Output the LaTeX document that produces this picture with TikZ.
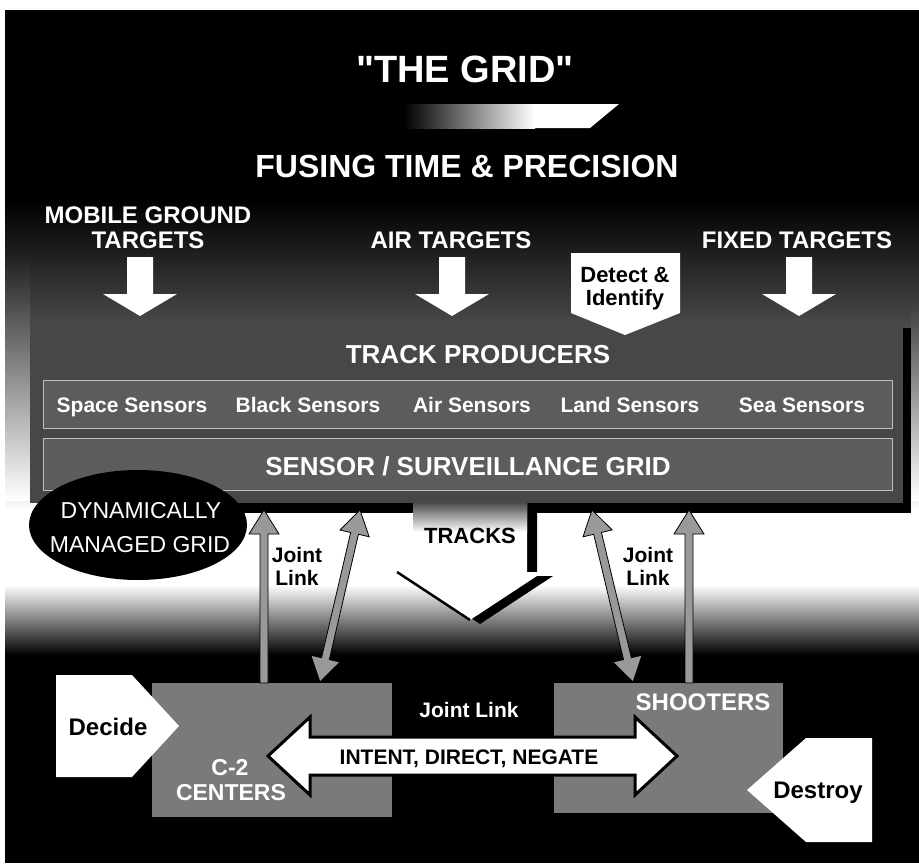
\documentclass[tikz,border=0pt]{standalone}
\usepackage{fontspec}
\setmainfont{Liberation Sans}[Ligatures=TeXOff]
\usetikzlibrary{calc,shapes.geometric}

\newcommand{\fsz}[1]{\fontsize{#1}{#1}\selectfont}

% fat arrow: [style]{tail}{tip}{shaft half}{head half}{head length}
\newcommand{\fatarrow}[6][]{%
  \coordinate (fa-b) at ($(#3)!#6pt!(#2)$);
  \filldraw[#1] ($(#2)!#4pt!90:(#3)$) -- ($(fa-b)!#4pt!90:(#3)$)
    -- ($(fa-b)!#5pt!90:(#3)$) -- (#3) -- ($(fa-b)!#5pt!-90:(#3)$)
    -- ($(fa-b)!#4pt!-90:(#3)$) -- ($(#2)!#4pt!-90:(#3)$) -- cycle;}

% same, with a head on both ends
\newcommand{\fatdarrow}[6][]{%
  \coordinate (fa-a) at ($(#2)!#6pt!(#3)$);
  \coordinate (fa-b) at ($(#3)!#6pt!(#2)$);
  \filldraw[#1] (#2) -- ($(fa-a)!#5pt!90:(#3)$) -- ($(fa-a)!#4pt!90:(#3)$)
    -- ($(fa-b)!#4pt!90:(#3)$) -- ($(fa-b)!#5pt!90:(#3)$) -- (#3)
    -- ($(fa-b)!#5pt!-90:(#3)$) -- ($(fa-b)!#4pt!-90:(#3)$)
    -- ($(fa-a)!#4pt!-90:(#3)$) -- ($(fa-a)!#5pt!-90:(#3)$) -- cycle;}

\begin{document}
\begin{tikzpicture}[x=1pt, y=-1pt,
		lbl/.style={font={\bfseries\fsz{#1}}, inner sep=0pt, anchor=base, text=white},
		lbl/.default=24,
		dark/.style={lbl=#1, text=black},
		panel/.style={fill=black!72, inner sep=0pt},
		row/.style={fill=black!64, draw=black!25, line width=0.8pt, inner sep=0pt},
		unit/.style={fill=black!52, inner sep=0pt},
		linkarrow/.style={fill=black!40, draw=black, line width=0.8pt},
		whitearrow/.style={fill=white, draw=none}]

\useasboundingbox (0,0) rectangle (919,863);
\fill[white] (0,0) rectangle (919,863);

% Background
\fill[black] (5,10) rectangle (919,863);
\shade[top color=black, bottom color=black!70] (5,200) rectangle (919,331);
\shade[top color=black!70, bottom color=white] (5,330) rectangle (919,512);
\fill[white] (5,511) rectangle (919,586);
\shade[top color=white, bottom color=black] (5,585) rectangle (919,655);
\shade[top color=black!86, bottom color=white] (5,260) rectangle (30,500);
\shade[top color=black!77, bottom color=white] (911,300) rectangle (919,500);

% Title
\node[lbl=38] (title) at (465,82) {"THE GRID"};
\shade[left color=black, right color=white] (404,104) rectangle (535,128);
\fill[white] (534,104) -- (619,104) -- (590,128) -- (534,128) -- cycle;
\node[lbl=32] (fusing) at (467,177) {FUSING TIME \& PRECISION};

% Targets
\node[lbl=24] (mobA) at (148,223) {MOBILE GROUND};
\node[lbl=24] (mobB) at (148,248) {TARGETS};
\node[lbl=24] (air) at (451,248) {AIR TARGETS};
\node[lbl=24] (fixed) at (797,248) {FIXED TARGETS};

\coordinate (mobtop) at (140,257);
\coordinate (mobtip) at (140,316);
\coordinate (airtop) at (452,257);
\coordinate (airtip) at (452,316);
\coordinate (fixtop) at (799,257);
\coordinate (fixtip) at (799,316);
\fatarrow[whitearrow]{mobtop}{mobtip}{13}{37}{22}
\fatarrow[whitearrow]{airtop}{airtip}{13}{37}{22}
\fatarrow[whitearrow]{fixtop}{fixtip}{13}{37}{22}

% Track producers
\fill[black] (38,328) rectangle (911,513);
\fill[black, shift={(10,4)}] (413,503) -- (413,572) -- (397,572) -- (470,620)
	-- (543,572) -- (527,572) -- (527,503) -- cycle;
\node[panel, minimum width=873pt, minimum height=185pt] (grid) at (466.5,410.5) {};
\fill[white] (413,503) -- (413,572) -- (397,572) -- (470,620)
	-- (543,572) -- (527,572) -- (527,503) -- cycle;
\shade[top color=black!72, bottom color=white] (413,502) rectangle (527,532);
\draw[black, line width=2.5pt] (397,572) -- (470,620);
\node[dark=22] (tracks) at (470,543) {TRACKS};

\fill[white] (571,253) -- (680,253) -- (680,313) -- (625,335) -- (571,313) -- cycle;
\node[dark=22] (detA) at (625,282) {Detect \&};
\node[dark=22] (detB) at (625,305) {Identify};

\node[lbl=26] (producers) at (478,363) {TRACK PRODUCERS};
\node[row, minimum width=849pt, minimum height=48pt] (sensrow) at (467.5,404) {};
\node[row, minimum width=849pt, minimum height=52pt] (survrow) at (467.5,464) {};
\node[lbl=21] (space) at (132,412) {Space Sensors};
\node[lbl=21] (black) at (308,412) {Black Sensors};
\node[lbl=21] (airs) at (472,412) {Air Sensors};
\node[lbl=21] (land) at (630,412) {Land Sensors};
\node[lbl=21] (sea) at (802,412) {Sea Sensors};
\node[lbl=26] (surv) at (468,475) {SENSOR / SURVEILLANCE GRID};

\node[ellipse, fill=black, minimum width=218pt, minimum height=110pt] (dmg) at (138,525) {};
\node[lbl=23, font=\fsz{23}] (dmgA) at (141,518) {DYNAMICALLY};
\node[lbl=23, font=\fsz{23}] (dmgB) at (140,552) {MANAGED GRID};

% C-2 and shooters
\node[unit, minimum width=240pt, minimum height=134pt] (c2) at (272,750) {};
\node[unit, minimum width=229pt, minimum height=130pt] (shoot) at (668.5,748) {};

\coordinate (c2a) at (264,683);
\coordinate (c2b) at (320,682);
\coordinate (gl1) at (264,510);
\coordinate (gl2) at (360,510);
\coordinate (sha) at (633,682);
\coordinate (shb) at (689,683);
\coordinate (gr1) at (592,510);
\coordinate (gr2) at (689,510);

% Paths
\fatarrow[linkarrow]{c2a}{gl1}{4}{15}{24}
\fatdarrow[linkarrow]{c2b}{gl2}{4}{15}{24}
\fatdarrow[linkarrow]{sha}{gr1}{4}{15}{24}
\fatarrow[linkarrow]{shb}{gr2}{4}{15}{24}

\node[dark=21] (jlA) at (297,562) {Joint};
\node[dark=21] (jlB) at (297,585) {Link};
\node[dark=21] (jrA) at (648,562) {Joint};
\node[dark=21] (jrB) at (648,585) {Link};

\coordinate (intL) at (268,756);
\coordinate (intR) at (677,756);
\fatdarrow[fill=white, draw=black, line width=3pt]{intL}{intR}{19}{39}{42}
\node[dark=21] (intent) at (469,764) {INTENT, DIRECT, NEGATE};
\node[lbl=21] (jmid) at (469,717) {Joint Link};

\node[lbl=24] (shooters) at (703,710) {SHOOTERS};
\node[lbl=23] (c2A) at (230,775) {C-2};
\node[lbl=23] (c2B) at (231,800) {CENTERS};

\fill[white] (56,675) -- (132,675) -- (179,726) -- (132,777) -- (56,777) -- cycle;
\node[dark=24] (decide) at (108,735) {Decide};
\fill[white] (872,738) -- (806,738) -- (747,790) -- (806,842) -- (872,842) -- cycle;
\node[dark=24] (destroy) at (818,798) {Destroy};
\end{tikzpicture}
\end{document}
